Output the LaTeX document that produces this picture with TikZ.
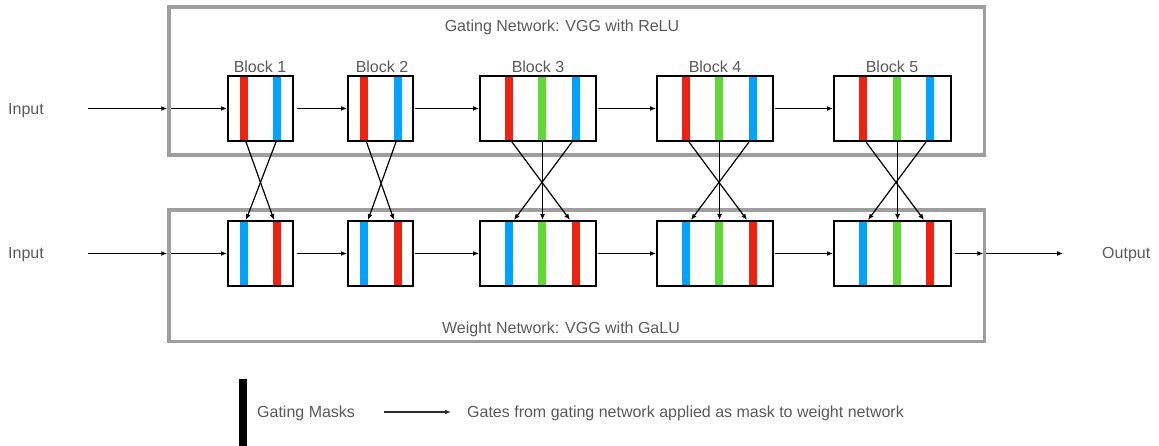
\documentclass[tikz,border=0pt]{standalone}
\usepackage{fontspec}
\setmainfont{Liberation Sans}
\usetikzlibrary{arrows.meta}
\definecolor{barred}{RGB}{237,34,16}
\definecolor{barblue}{RGB}{0,162,255}
\definecolor{bargreen}{RGB}{96,217,55}
\definecolor{framegray}{RGB}{158,158,158}
\definecolor{txtgray}{RGB}{90,90,90}
\definecolor{legarrow}{RGB}{45,45,45}
\tikzset{
  txt/.style={inner sep=0pt, text=txtgray, font=\fontsize{16}{19}\selectfont},
  frame/.style={draw=framegray, line width=3.5pt, inner sep=0pt},
  blockbox/.style={draw=black, line width=2pt, inner sep=0pt, minimum height=65pt},
  bar/.style={inner sep=0pt, minimum width=8pt, minimum height=67pt, outer sep=0pt},
  arr/.style={-{Latex[length=6pt,width=5pt]}, line width=1.2pt, black},
}
\begin{document}
\begin{tikzpicture}[x=1pt,y=-1pt]
\useasboundingbox (0,0) rectangle (1159,446);

% frames
\node[frame, minimum width=815.5pt, minimum height=148pt] (gatebox) at (576.75,81) {};
\node[frame, minimum width=815.5pt, minimum height=131.5pt] (weightbox) at (576.75,275.75) {};
\node[txt, anchor=base] (gatetitle) at (562,32) {Gating Network: VGG with ReLU};
\node[txt, anchor=base] (weighttitle) at (561,334) {Weight Network: VGG with GaLU};

% bars, top row (gating)
\node[bar, fill=barred]  (g1r) at (244,108.5) {};
\node[bar, fill=barblue] (g1b) at (277,108.5) {};
\node[bar, fill=barred]  (g2r) at (364,108.5) {};
\node[bar, fill=barblue] (g2b) at (398,108.5) {};
\node[bar, fill=barred]   (g3r) at (509,108.5) {};
\node[bar, fill=bargreen] (g3g) at (542,108.5) {};
\node[bar, fill=barblue]  (g3b) at (576,108.5) {};
\node[bar, fill=barred]   (g4r) at (686,108.5) {};
\node[bar, fill=bargreen] (g4g) at (719,108.5) {};
\node[bar, fill=barblue]  (g4b) at (753,108.5) {};
\node[bar, fill=barred]   (g5r) at (863,108.5) {};
\node[bar, fill=bargreen] (g5g) at (897,108.5) {};
\node[bar, fill=barblue]  (g5b) at (930,108.5) {};
% bars, bottom row (weight)
\node[bar, fill=barblue] (w1b) at (244,253.5) {};
\node[bar, fill=barred]  (w1r) at (277,253.5) {};
\node[bar, fill=barblue] (w2b) at (364,253.5) {};
\node[bar, fill=barred]  (w2r) at (398,253.5) {};
\node[bar, fill=barblue]  (w3b) at (509,253.5) {};
\node[bar, fill=bargreen] (w3g) at (542,253.5) {};
\node[bar, fill=barred]   (w3r) at (576,253.5) {};
\node[bar, fill=barblue]  (w4b) at (686,253.5) {};
\node[bar, fill=bargreen] (w4g) at (719,253.5) {};
\node[bar, fill=barred]   (w4r) at (753,253.5) {};
\node[bar, fill=barblue]  (w5b) at (863,253.5) {};
\node[bar, fill=bargreen] (w5g) at (897,253.5) {};
\node[bar, fill=barred]   (w5r) at (930,253.5) {};

% blocks
\node[blockbox, minimum width=65pt]  (g1) at (260.5,108.5) {};
\node[blockbox, minimum width=65pt]  (g2) at (380.5,108.5) {};
\node[blockbox, minimum width=116pt] (g3) at (538,108.5) {};
\node[blockbox, minimum width=116pt] (g4) at (715,108.5) {};
\node[blockbox, minimum width=117pt] (g5) at (892.5,108.5) {};
\node[blockbox, minimum width=65pt]  (w1) at (260.5,253.5) {};
\node[blockbox, minimum width=65pt]  (w2) at (380.5,253.5) {};
\node[blockbox, minimum width=116pt] (w3) at (538,253.5) {};
\node[blockbox, minimum width=116pt] (w4) at (715,253.5) {};
\node[blockbox, minimum width=117pt] (w5) at (892.5,253.5) {};

% block labels
\node[txt, anchor=base] (l1) at (260,73) {Block 1};
\node[txt, anchor=base] (l2) at (382,73) {Block 2};
\node[txt, anchor=base] (l3) at (538,73) {Block 3};
\node[txt, anchor=base] (l4) at (715,73) {Block 4};
\node[txt, anchor=base] (l5) at (892,73) {Block 5};

% inputs / output
\node[txt, anchor=base west] (in1) at (8,115) {Input};
\node[txt, anchor=base west] (in2) at (8,259) {Input};
\node[txt, anchor=base west] (out) at (1102,259) {Output};
\coordinate (in1a) at (88,108.5);
\coordinate (in2a) at (88,253.5);
\coordinate (outa) at (1063,253.5);
\coordinate (gin) at (gatebox.west |- g1.west);
\coordinate (win) at (weightbox.west |- w1.west);
\coordinate (wout) at (weightbox.east |- w5.east);

\draw[arr] (in1a) -- (gin);
\draw[arr] ([xshift=4pt]gin) -- (g1.west);
\draw[arr] (in2a) -- (win);
\draw[arr] ([xshift=4pt]win) -- (w1.west);

% chain arrows
\draw[arr] ([xshift=3pt]g1.east) -- (g2.west);
\draw[arr] ([xshift=1pt]g2.east) -- (g3.west);
\draw[arr] ([xshift=1pt]g3.east) -- (g4.west);
\draw[arr] ([xshift=1pt]g4.east) -- (g5.west);
\draw[arr] ([xshift=3pt]w1.east) -- (w2.west);
\draw[arr] ([xshift=1pt]w2.east) -- (w3.west);
\draw[arr] ([xshift=1pt]w3.east) -- (w4.west);
\draw[arr] ([xshift=1pt]w4.east) -- (w5.west);
\draw[arr] ([xshift=3pt]w5.east) -- ([xshift=-3pt]wout);
\draw[arr] (wout) -- (outa);

% gating mask connectors
\draw[arr] ([xshift=2pt]g1r.south) -- ([xshift=-3pt]w1r.north);
\draw[arr] ([xshift=-1pt]g1b.south) -- ([xshift=2pt]w1b.north);
\draw[arr] ([xshift=2.5pt]g2r.south) -- ([xshift=-4pt]w2r.north);
\draw[arr] ([xshift=-2pt]g2b.south) -- ([xshift=4pt]w2b.north);
\foreach \i in {3,4,5}{
  \draw[arr] ([xshift=3pt]g\i r.south) -- ([xshift=-6pt]w\i r.north);
  \draw[arr] ([xshift=0.5pt]g\i g.south) -- ([xshift=0.5pt]w\i g.north);
  \draw[arr] ([xshift=-4pt]g\i b.south) -- ([xshift=5pt]w\i b.north);
}

% legend
\node[fill=black, inner sep=0pt, minimum width=7.5pt, minimum height=67pt] (legbar) at (243,412.5) {};
\node[txt, anchor=base west] (legmask) at (257,417.5) {Gating Masks};
\coordinate (legA) at (384,412);
\coordinate (legB) at (451,412);
\draw[arr, legarrow] (legA) -- (legB);
\node[txt, anchor=base west] (legtext) at (467,417.5) {Gates from gating network applied as mask to weight network};
\end{tikzpicture}
\end{document}
